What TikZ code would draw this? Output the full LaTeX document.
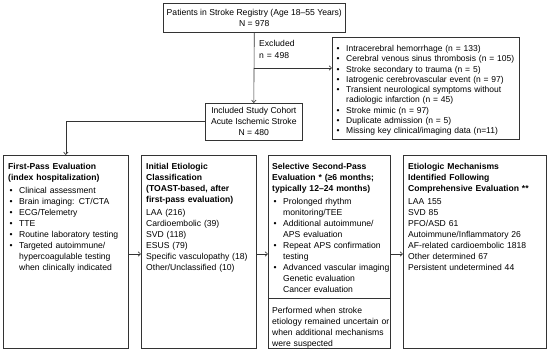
\documentclass[tikz,border=0pt]{standalone}
\usepackage{fontspec}
\setmainfont{Liberation Sans}
\usetikzlibrary{arrows.meta}
\newcommand\bitem[1]{\par\noindent\hangindent=11pt\hangafter=1\makebox[11pt][l]{\hspace{1.5pt}\textbullet}#1}
\newcommand\iitem[1]{\par\noindent\hspace*{11pt}#1}
\newcommand\pitem[1]{\par\noindent #1}
\definecolor{lc}{HTML}{333333}
\tikzset{
  box/.style={draw=lc, line width=0.6pt, rectangle, inner sep=0pt, anchor=north west},
  ctr/.style={box, align=center, font=\fontsize{8.6}{11}\selectfont},
  txt/.style={anchor=north west, inner sep=0pt, text width=#1, font=\fontsize{8.6}{11}\selectfont},
  rtxt/.style={anchor=north west, inner sep=0pt, text width=#1, font=\fontsize{8.5}{10.3}\selectfont},
  arr/.style={draw=lc, line width=0.6pt, -{Straight Barb[length=2.5pt,width=4.5pt]}},
  ln/.style={draw=lc, line width=0.6pt}
}
\begin{document}
\begin{tikzpicture}[x=1pt,y={(0pt,-1pt)}]
\useasboundingbox (0,0) rectangle (550,353);
% top
\node[ctr, minimum width=182pt, minimum height=29pt] (top) at (163,3) {Patients in Stroke Registry (Age 18–55 Years)\\N = 978};
\node[ctr, minimum width=97pt, minimum height=37pt] (inc) at (205,103) {Included Study Cohort\\Acute Ischemic Stroke\\N = 480};
\node[txt=60pt, font=\fontsize{8.6}{11.5}\selectfont] (exl) at (259,40.5) {Excluded\par n = 498};
\node[box, minimum width=187pt, minimum height=102pt] (exc) at (332,37) {};
\node[rtxt=185pt] (exct) at (335,41) {\raggedright
\bitem{Intracerebral hemorrhage (n = 133)}
\bitem{Cerebral venous sinus thrombosis (n = 105)}
\bitem{Stroke secondary to trauma (n = 5)}
\bitem{Iatrogenic cerebrovascular event (n = 97)}
\bitem{Transient neurological symptoms without\newline radiologic infarction (n = 45)}
\bitem{Stroke mimic (n = 97)}
\bitem{Duplicate admission (n = 5)}
\bitem{Missing key clinical/imaging data (n=11)}\par};
\coordinate (br) at (254,68);
\draw[arr] (top.south) -- (inc.north);
\draw[arr] (br) -- (br -| exc.west);
% bottom boxes
\node[box, minimum width=125pt, minimum height=193pt] (b1) at (3,155) {};
\node[box, minimum width=115pt, minimum height=193pt] (b2) at (141,155) {};
\node[box, minimum width=122pt, minimum height=193pt] (b3) at (268,155) {};
\node[box, minimum width=143pt, minimum height=193pt] (b4) at (403,155) {};
\draw[arr] (inc.west) -| (b1.north);
\coordinate (ay) at (0,254);
\draw[arr] (b1.east |- ay) -- (b2.west |- ay);
\draw[arr] (b2.east |- ay) -- (b3.west |- ay);
\draw[arr] (b3.east |- ay) -- (b4.west |- ay);
\coordinate (dy) at (0,298);
\draw[ln] (b3.west |- dy) -- (b3.east |- dy);
% texts
\node[txt=122pt] (t1) at (8,158) {\raggedright
\pitem{\textbf{First-Pass Evaluation}\newline\textbf{(index hospitalization)}}\par\vspace{2.5pt}
\bitem{Clinical assessment}
\bitem{Brain imaging: CT/CTA}
\bitem{ECG/Telemetry}
\bitem{TTE}
\bitem{Routine laboratory testing}
\bitem{Targeted autoimmune/\newline hypercoagulable testing\newline when clinically indicated}\par};
\node[txt=112pt] (t2) at (146,158) {\raggedright
\pitem{\textbf{Initial Etiologic}\newline\textbf{Classification}\newline\textbf{(TOAST-based, after}\newline\textbf{first-pass evaluation)}}\par\vspace{2.5pt}
\pitem{LAA (216)}
\pitem{Cardioembolic (39)}
\pitem{SVD (118)}
\pitem{ESUS (79)}
\pitem{Specific vasculopathy (18)}
\pitem{Other/Unclassified (10)}\par};
\node[txt=121pt] (t3) at (272,158) {\raggedright
\pitem{\textbf{Selective Second-Pass}\newline\textbf{Evaluation * (≥6 months;}\newline\textbf{typically 12–24 months)}}\par\vspace{2.5pt}
\bitem{Prolonged rhythm\newline monitoring/TEE}
\bitem{Additional autoimmune/\newline APS evaluation}
\bitem{Repeat APS confirmation\newline testing}
\bitem{Advanced vascular imaging}
\iitem{Genetic evaluation}
\iitem{Cancer evaluation}\par};
\node[txt=121pt] (t3b) at (272,302.5) {\raggedright
\pitem{Performed when stroke\newline etiology remained uncertain or\newline when additional mechanisms\newline were suspected}\par};
\node[txt=140pt] (t4) at (408,158) {\raggedright
\pitem{\textbf{Etiologic Mechanisms}\newline\textbf{Identified Following}\newline\textbf{Comprehensive Evaluation **}}\par\vspace{2.5pt}
\pitem{LAA 155}
\pitem{SVD 85}
\pitem{PFO/ASD 61}
\pitem{Autoimmune/Inflammatory 26}
\pitem{AF-related cardioembolic 1818}
\pitem{Other determined 67}
\pitem{Persistent undetermined 44}\par};
\end{tikzpicture}
\end{document}
